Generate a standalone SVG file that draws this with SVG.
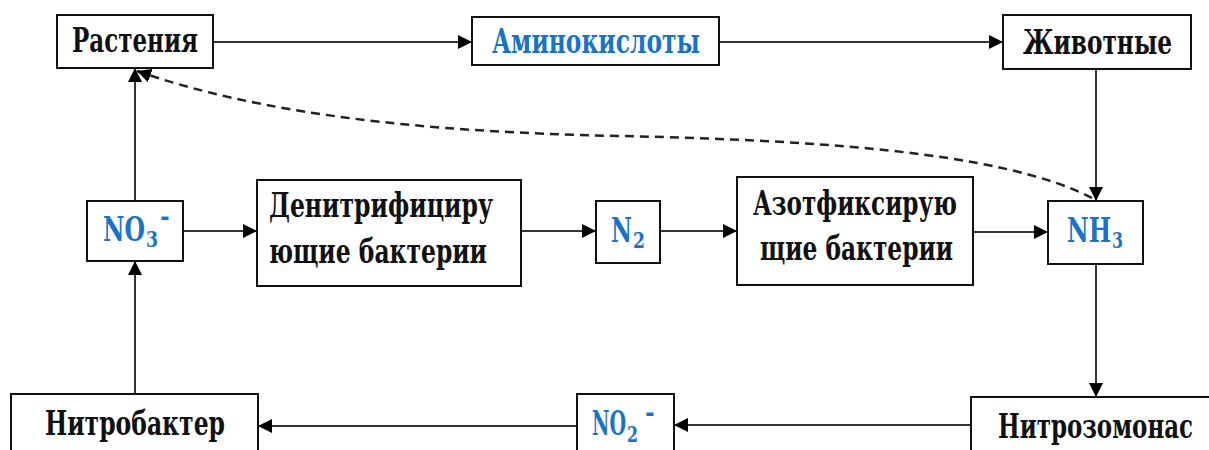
<svg xmlns="http://www.w3.org/2000/svg" width="1209" height="450" viewBox="0 0 1209 450">
<style>
.box{fill:#fff;stroke:#111;stroke-width:2}
.t{font-family:"DejaVu Serif Condensed","DejaVu Serif","Liberation Serif",serif;font-weight:bold;font-size:33px;fill:#111}
.b{fill:#1a73c4}
.s{font-size:22px}
.m{font-size:26px}
.c{fill:none;stroke:#333;stroke-width:2}
.d{fill:none;stroke:#222;stroke-width:2.5;stroke-dasharray:9 6}
</style>
<defs>
<marker id="ah" markerUnits="userSpaceOnUse" markerWidth="16" markerHeight="14" refX="14" refY="7" orient="auto">
<path d="M0,0 L14,7 L0,14 Z" fill="#000"/>
</marker>
</defs>
<rect width="1209" height="450" fill="#fff"/>
<g id="connectors">
<line class="c" x1="213" y1="42" x2="472" y2="42" marker-end="url(#ah)"/>
<line class="c" x1="719" y1="42" x2="1003" y2="42" marker-end="url(#ah)"/>
<line class="c" x1="1096" y1="69" x2="1096" y2="201" marker-end="url(#ah)"/>
<line class="c" x1="1096" y1="264" x2="1096" y2="397" marker-end="url(#ah)"/>
<line class="c" x1="971" y1="425" x2="674" y2="425" marker-end="url(#ah)"/>
<line class="c" x1="577" y1="426" x2="258" y2="426" marker-end="url(#ah)"/>
<line class="c" x1="135" y1="394" x2="135" y2="261" marker-end="url(#ah)"/>
<line class="c" x1="135" y1="201" x2="135" y2="68" marker-end="url(#ah)"/>
<line class="c" x1="183" y1="231" x2="257" y2="231" marker-end="url(#ah)"/>
<line class="c" x1="521" y1="231" x2="596" y2="231" marker-end="url(#ah)"/>
<line class="c" x1="660" y1="231" x2="737" y2="231" marker-end="url(#ah)"/>
<line class="c" x1="973" y1="232" x2="1048" y2="232" marker-end="url(#ah)"/>
<path class="d" d="M1092,198 C1000,150 800,140 620,136 C420,132 260,114 137,71" marker-end="url(#ah)"/>
</g>
<g id="rastenia">
<rect class="box" x="57" y="15" width="156" height="53"/>
<text class="t" x="72" y="52" textLength="126" lengthAdjust="spacingAndGlyphs">Растения</text>
</g>
<g id="aminokisloty">
<rect class="box" x="472" y="17" width="247" height="48"/>
<text class="t b" x="492" y="53" textLength="208" lengthAdjust="spacingAndGlyphs">Аминокислоты</text>
</g>
<g id="zhivotnye">
<rect class="box" x="1003" y="15" width="188" height="54"/>
<text class="t" x="1023" y="54" textLength="149" lengthAdjust="spacingAndGlyphs">Животные</text>
</g>
<g id="no3">
<rect class="box" x="87" y="201" width="96" height="60"/>
<text class="t b" x="103" y="241" textLength="42" lengthAdjust="spacingAndGlyphs">NO</text>
<text class="t b s" x="146" y="247" textLength="12" lengthAdjust="spacingAndGlyphs">3</text>
<text class="t b m" x="160" y="225">-</text>
</g>
<g id="denitr">
<rect class="box" x="257" y="180" width="264" height="106"/>
<text class="t" x="269" y="217" textLength="224" lengthAdjust="spacingAndGlyphs">Денитрифициру</text>
<text class="t" x="269" y="263" textLength="218" lengthAdjust="spacingAndGlyphs">ющие бактерии</text>
</g>
<g id="n2">
<rect class="box" x="596" y="201" width="64" height="62"/>
<text class="t b" x="611" y="242" textLength="21" lengthAdjust="spacingAndGlyphs">N</text>
<text class="t b s" x="633" y="248" textLength="12" lengthAdjust="spacingAndGlyphs">2</text>
</g>
<g id="azot">
<rect class="box" x="737" y="177" width="236" height="108"/>
<text class="t" x="753" y="215" textLength="204" lengthAdjust="spacingAndGlyphs">Азотфиксирую</text>
<text class="t" x="760" y="260" textLength="193" lengthAdjust="spacingAndGlyphs">щие бактерии</text>
</g>
<g id="nh3">
<rect class="box" x="1048" y="201" width="95" height="63"/>
<text class="t b" x="1067" y="242" textLength="44" lengthAdjust="spacingAndGlyphs">NH</text>
<text class="t b s" x="1112" y="248" textLength="11" lengthAdjust="spacingAndGlyphs">3</text>
</g>
<g id="nitrobakter">
<rect class="box" x="11" y="394" width="247" height="70"/>
<text class="t" x="45" y="435" textLength="180" lengthAdjust="spacingAndGlyphs">Нитробактер</text>
</g>
<g id="no2">
<rect class="box" x="577" y="394" width="97" height="70"/>
<text class="t b" x="592" y="435" textLength="34" lengthAdjust="spacingAndGlyphs">NO</text>
<text class="t b s" x="627" y="442" textLength="11" lengthAdjust="spacingAndGlyphs">2</text>
<text class="t b m" x="645" y="421">-</text>
</g>
<g id="nitrozomonas">
<rect class="box" x="971" y="397" width="250" height="70"/>
<text class="t" x="998" y="438" textLength="195" lengthAdjust="spacingAndGlyphs">Нитрозомонас</text>
</g>
</svg>
